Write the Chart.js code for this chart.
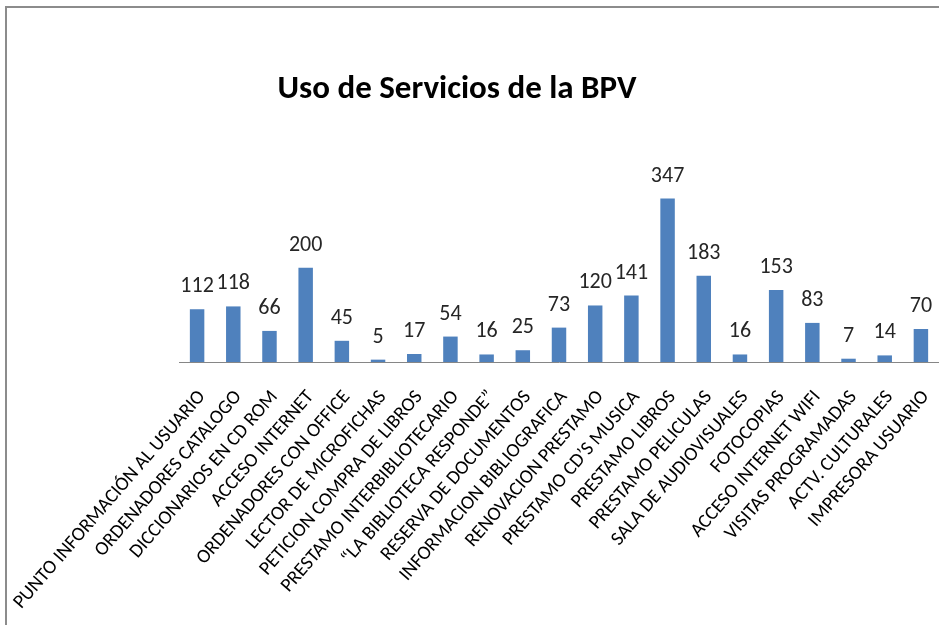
<!DOCTYPE html>
<html>
<head>
<meta charset="utf-8">
<script src="https://cdn.jsdelivr.net/npm/chart.js@4.4.1/dist/chart.umd.min.js"></script>
<style>
  html, body { margin: 0; padding: 0; background: #fff; }
  #wrap { position: absolute; left: 0; top: 0; width: 939px; height: 625px; }
</style>
</head>
<body>
<div id="wrap"><canvas id="c" width="939" height="625"></canvas></div>
<script>
const TITLE = "Uso de Servicios de la BPV";
const categories = [
  "PUNTO INFORMACIÓN AL USUARIO",
  "ORDENADORES CATALOGO",
  "DICCIONARIOS EN CD ROM",
  "ACCESO INTERNET",
  "ORDENADORES CON OFFICE",
  "LECTOR DE MICROFICHAS",
  "PETICION COMPRA DE LIBROS",
  "PRESTAMO INTERBIBLIOTECARIO",
  "“LA BIBLIOTECA RESPONDE”",
  "RESERVA DE DOCUMENTOS",
  "INFORMACION BIBLIOGRAFICA",
  "RENOVACION PRESTAMO",
  "PRESTAMO CD’S MUSICA",
  "PRESTAMO LIBROS",
  "PRESTAMO PELICULAS",
  "SALA DE AUDIOVISUALES",
  "FOTOCOPIAS",
  "ACCESO INTERNET WIFI",
  "VISITAS PROGRAMADAS",
  "ACTV. CULTURALES",
  "IMPRESORA USUARIO"
];
const usos = [112, 118, 66, 200, 45, 5, 17, 54, 16, 25, 73, 120, 141, 347, 183, 16, 153, 83, 7, 14, 70];

const FONT = "Carlito, Lato, 'Liberation Sans', sans-serif";

const frame = {
  id: 'frame',
  beforeDraw(chart) {
    const ctx = chart.ctx;
    ctx.save();
    ctx.strokeStyle = '#8c8c8c';
    ctx.lineWidth = 2;
    ctx.beginPath();
    ctx.moveTo(6, 625);
    ctx.lineTo(6, 7);
    ctx.lineTo(939, 7);
    ctx.stroke();
    ctx.fillStyle = '#000';
    ctx.font = "bold 33px " + FONT;
    ctx.textAlign = 'center';
    ctx.textBaseline = 'alphabetic';
    ctx.fillText(TITLE, 457, 98);
    ctx.restore();
  }
};

const valueLabels = {
  id: 'valueLabels',
  afterDatasetsDraw(chart) {
    const ctx = chart.ctx;
    const meta = chart.getDatasetMeta(0);
    ctx.save();
    ctx.font = "22px " + FONT;
    ctx.fillStyle = '#262626';
    ctx.textAlign = 'center';
    ctx.textBaseline = 'alphabetic';
    meta.data.forEach((bar, i) => {
      ctx.fillText(String(usos[i]), bar.x, bar.y - 17);
    });
    ctx.restore();
  }
};

new Chart(document.getElementById('c'), {
  type: 'bar',
  data: {
    labels: categories,
    datasets: [{
      data: usos,
      backgroundColor: '#4F81BD',
      borderWidth: 0,
      categoryPercentage: 1.0,
      barPercentage: 0.4
    }]
  },
  options: {
    responsive: false,
    animation: false,
    layout: { padding: { top: 183, right: 0, bottom: 0, left: 0 } },
    plugins: {
      legend: { display: false },
      tooltip: { enabled: false },
      title: { display: false }
    },
    scales: {
      x: {
        grid: { display: false, drawTicks: false },
        border: { display: true, color: '#868686', width: 1 },
        ticks: {
          color: '#000',
          font: { family: FONT, size: 19.5 },
          minRotation: 49,
          maxRotation: 49,
          autoSkip: false,
          padding: 24,
          labelOffset: 5
        },
        afterFit(scale) {
          scale.paddingLeft = 179;
          scale.paddingRight = 0;
          scale.height = 263;
        }
      },
      y: {
        display: false,
        min: 0,
        max: 380
      }
    }
  },
  plugins: [frame, valueLabels]
});
</script>
</body>
</html>
